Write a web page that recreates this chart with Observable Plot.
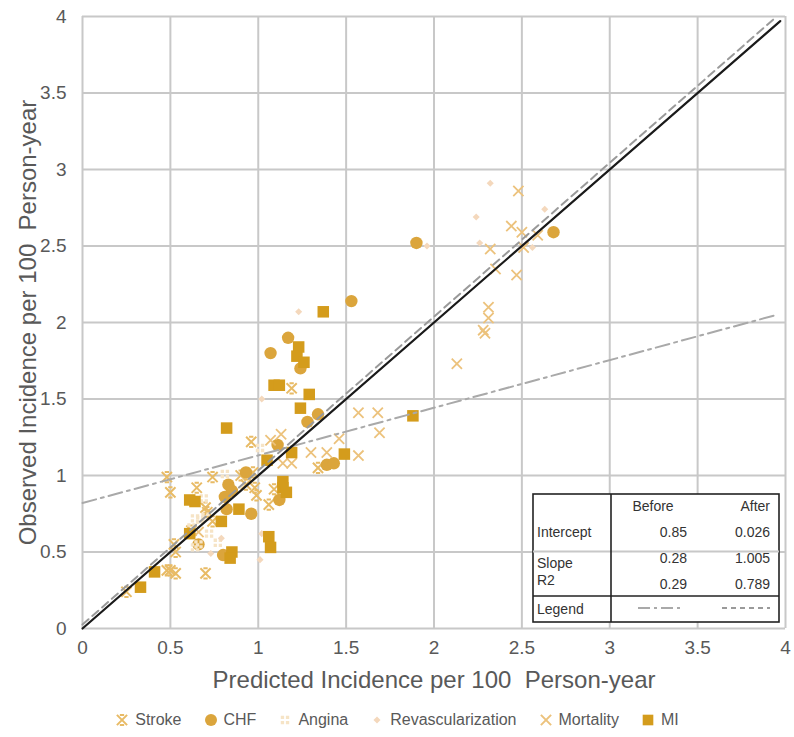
<!DOCTYPE html>
<html><head><meta charset="utf-8">
<script src="https://cdn.jsdelivr.net/npm/d3@7"></script>
<script src="https://cdn.jsdelivr.net/npm/@observablehq/plot@0.6"></script>
<style>
body{margin:0;background:#fff;font-family:"Liberation Sans",Arial,sans-serif;}
#wrap{position:relative;width:794px;height:737px;overflow:hidden;}
#legend{position:absolute;top:711px;left:0;width:794px;display:flex;justify-content:center;align-items:center;gap:22px;font-size:16px;color:#595959;}
#legend .it{display:flex;align-items:center;gap:6px;}
</style></head><body>
<div id="wrap"><div id="chart"></div><div id="legend"></div></div>
<script>
// ---- data ----
const strokeX = [0.25,0.48,0.50,0.53,0.70,0.52,0.53,0.48,0.50,0.74,0.70,0.71,0.74,0.96,0.97,0.90,0.93,0.98,0.99,1.09,1.06,1.19,1.34,0.65,0.62];
const strokeY = [0.24,0.38,0.38,0.36,0.36,0.55,0.50,0.99,0.89,0.99,0.79,0.76,0.70,1.22,1.02,1.00,0.94,0.92,0.87,0.91,0.81,1.57,1.05,0.92,0.64];
const chfX = [2.68,1.90,1.53,1.17,1.07,1.24,1.34,1.28,1.11,1.39,1.43,0.93,0.83,0.85,0.81,1.12,0.82,0.96,0.66,0.80];
const chfY = [2.59,2.52,2.14,1.90,1.80,1.70,1.40,1.35,1.20,1.07,1.08,1.02,0.94,0.90,0.86,0.84,0.78,0.75,0.55,0.48];
const anginaX = [1.01,0.81,0.64,0.70,0.69,0.67,0.77,0.64,0.66,0.62,0.72];
const anginaY = [1.18,1.01,0.72,0.73,0.85,0.71,0.56,0.53,0.55,0.66,0.62];
const revascX = [2.32,2.24,2.63,2.26,2.56,1.96,1.23,1.02,0.73,0.79,1.02,1.01];
const revascY = [2.91,2.69,2.74,2.52,2.49,2.50,2.07,1.50,0.49,0.59,0.62,0.45];
const mortX = [2.48,2.44,2.50,2.59,2.32,2.51,2.35,2.47,2.31,2.31,2.28,2.29,2.13,1.57,1.68,1.69,1.46,1.13,1.30,1.39,1.57,1.14,1.19,1.07,0.66];
const mortY = [2.86,2.63,2.59,2.57,2.48,2.49,2.35,2.31,2.10,2.03,1.95,1.93,1.73,1.41,1.41,1.28,1.24,1.27,1.15,1.15,1.13,1.08,1.08,1.23,0.63];
const miX = [1.37,1.23,1.22,1.26,1.09,1.12,1.29,1.24,1.88,0.82,1.19,1.49,1.05,1.14,1.14,1.16,0.61,0.64,0.89,0.79,0.61,1.06,1.07,0.85,0.84,0.41,0.33];
const miY = [2.07,1.84,1.78,1.74,1.59,1.59,1.53,1.44,1.39,1.31,1.15,1.14,1.10,0.96,0.92,0.89,0.84,0.83,0.78,0.70,0.62,0.60,0.53,0.50,0.46,0.37,0.27];

const identityX = [0, 3.97], identityY = [0, 3.97];
const afterX = [0, 3.95], afterY = [0.026, 4.0];
const beforeX = [0, 3.95], beforeY = [0.82, 2.05];

const tickValues = [0,0.5,1,1.5,2,2.5,3,3.5,4];
const xTitle = "Predicted Incidence per 100  Person-year";
const yTitle = "Observed Incidence per 100  Person-year";

const tableHeader = ["", "Before", "After"];
const tableRowLabels = ["Intercept", "Slope", "R2", "Legend"];
const beforeVals = ["0.85", "0.28", "0.29"];
const afterVals = ["0.026", "1.005", "0.789"];

const seriesNames = ["Stroke","CHF","Angina","Revascularization","Mortality","MI"];
const seriesColors = ["#e8bb66","#dba53c","#f6e4c6","#f4d8bc","#ecc27c","#d49c1c"];

// ---- symbols ----
const symStroke = {draw(c, size){ const s = Math.sqrt(size)*0.48, b = s*0.42;
  c.moveTo(-s,-s); c.lineTo(s,s); c.moveTo(s,-s); c.lineTo(-s,s);
  c.moveTo(-b,-s); c.lineTo(b,-s); c.moveTo(-b,s); c.lineTo(b,s);}};
const symX = {draw(c, size){ const s = Math.sqrt(size)*0.48;
  c.moveTo(-s,-s); c.lineTo(s,s); c.moveTo(s,-s); c.lineTo(-s,s);}};
const symAngina = {draw(c, size){ const s = Math.sqrt(size)*0.5, a = s*0.75, g = s*0.2;
  c.rect(-g-a,-g-a,a,a); c.rect(g,-g-a,a,a); c.rect(-g-a,g,a,a); c.rect(g,g,a,a);}};
const symDiamond = {draw(c, size){ const s = Math.sqrt(size)*0.5;
  c.moveTo(0,-s); c.lineTo(s,0); c.lineTo(0,s); c.lineTo(-s,0); c.closePath();}};

const pts = (xs, ys) => xs.map((x,i) => ({x, y: ys[i]}));

const gridColor = "#c8c8c8";
const chart = Plot.plot({
  width: 794, height: 700,
  marginTop: 16, marginBottom: 72, marginLeft: 82, marginRight: 9,
  style: {fontFamily: '"Liberation Sans", Arial, sans-serif', background: "#fff"},
  x: {domain: [0,4]},
  y: {domain: [0,4]},
  marks: [
    Plot.gridX(tickValues, {stroke: gridColor, strokeOpacity: 1, strokeWidth: 2}),
    Plot.gridY(tickValues, {stroke: gridColor, strokeOpacity: 1, strokeWidth: 2}),
    Plot.axisX(tickValues, {tickSize: 0, tickPadding: 12, fontSize: 19, fill: "#595959", label: null, tickFormat: d => String(d)}),
    Plot.axisY(tickValues, {tickSize: 0, tickPadding: 16, fontSize: 19, fill: "#595959", label: null, tickFormat: d => String(d)}),
    Plot.text([xTitle], {frameAnchor: "bottom", dy: 52, text: d => d, fontSize: 24, fill: "#595959", textAnchor: "middle", lineAnchor: "middle"}),
    Plot.text([yTitle], {frameAnchor: "left", dx: -54, text: d => d, fontSize: 24, fill: "#595959", rotate: -90, textAnchor: "middle", lineAnchor: "middle"}),
    Plot.dot(pts(strokeX, strokeY), {x: "x", y: "y", symbol: symStroke, r: 6, fill: "none", stroke: seriesColors[0], strokeWidth: 2}),
    Plot.dot(pts(chfX, chfY), {x: "x", y: "y", symbol: "circle", r: 6.2, fill: seriesColors[1], stroke: "none"}),
    Plot.dot(pts(anginaX, anginaY), {x: "x", y: "y", symbol: symAngina, r: 5, fill: seriesColors[2], stroke: "none"}),
    Plot.dot(pts(revascX, revascY), {x: "x", y: "y", symbol: symDiamond, r: 4, fill: seriesColors[3], stroke: "none"}),
    Plot.dot(pts(mortX, mortY), {x: "x", y: "y", symbol: symX, r: 6, fill: "none", stroke: seriesColors[4], strokeWidth: 1.8}),
    Plot.dot(pts(miX, miY), {x: "x", y: "y", symbol: "square", r: 6.5, fill: seriesColors[5], stroke: "none"}),
    Plot.line(pts(beforeX, beforeY), {x: "x", y: "y", stroke: "#a9a9a9", strokeWidth: 2, strokeDasharray: "14,5,3,5"}),
    Plot.line(pts(afterX, afterY), {x: "x", y: "y", stroke: "#9a9a9a", strokeWidth: 2, strokeDasharray: "8,5"}),
    Plot.line(pts(identityX, identityY), {x: "x", y: "y", stroke: "#1a1a1a", strokeWidth: 2.2})
  ]
});
document.getElementById("chart").appendChild(chart);

// ---- table overlay ----
const NS = "http://www.w3.org/2000/svg";
const tsvg = document.createElementNS(NS, "svg");
tsvg.setAttribute("width", 794); tsvg.setAttribute("height", 700);
tsvg.style.position = "absolute"; tsvg.style.left = "0"; tsvg.style.top = "0";
document.getElementById("wrap").appendChild(tsvg);
function el(tag, attrs, txt){ const e = document.createElementNS(NS, tag); for (const k in attrs) e.setAttribute(k, attrs[k]); if (txt != null) e.textContent = txt; tsvg.appendChild(e); return e; }
const L = 533, R = 779, T = 494, B = 622, V = 611;
el("rect", {x: L, y: T, width: R-L, height: B-T, fill: "#fff", stroke: "#222", "stroke-width": 1.6});
el("line", {x1: L, x2: R, y1: 551.5, y2: 551.5, stroke: gridColor, "stroke-width": 2});
el("line", {x1: V, x2: V, y1: T, y2: B, stroke: "#222", "stroke-width": 1.6});
el("line", {x1: L, x2: R, y1: 596, y2: 596, stroke: "#222", "stroke-width": 1.6});
const tf = {"font-family": '"Liberation Sans", Arial, sans-serif', "font-size": 14, fill: "#333"};
el("text", {...tf, x: 653, y: 511, "text-anchor": "middle"}, tableHeader[1]);
el("text", {...tf, x: 770, y: 511, "text-anchor": "end"}, tableHeader[2]);
el("text", {...tf, x: 537, y: 537}, tableRowLabels[0]);
el("text", {...tf, x: 537, y: 568}, tableRowLabels[1]);
el("text", {...tf, x: 537, y: 585}, tableRowLabels[2]);
el("text", {...tf, x: 537, y: 614}, tableRowLabels[3]);
const rowsY = [537, 563, 589];
rowsY.forEach((y,i) => {
  el("text", {...tf, x: 687, y, "text-anchor": "end"}, beforeVals[i]);
  el("text", {...tf, x: 770, y, "text-anchor": "end"}, afterVals[i]);
});
el("line", {x1: 638, x2: 684, y1: 608, y2: 608, stroke: "#a9a9a9", "stroke-width": 2, "stroke-dasharray": "12,4,3,4"});
el("line", {x1: 722, x2: 770, y1: 608, y2: 608, stroke: "#9a9a9a", "stroke-width": 2, "stroke-dasharray": "5,4"});

// ---- legend ----
const legendSyms = [symStroke, d3.symbolCircle, symAngina, symDiamond, symX, d3.symbolSquare];
const legendSizes = [6, 6, 5, 4, 6, 6];
const legendStroked = [true, false, false, false, true, false];
const leg = document.getElementById("legend");
seriesNames.forEach((name, i) => {
  const it = document.createElement("div"); it.className = "it";
  const s = document.createElementNS(NS, "svg"); s.setAttribute("width", 14); s.setAttribute("height", 14);
  const p = document.createElementNS(NS, "path");
  const r = legendSizes[i];
  p.setAttribute("d", d3.symbol(legendSyms[i], r*r*Math.PI)());
  p.setAttribute("transform", "translate(7,7)");
  if (legendStroked[i]) { p.setAttribute("fill","none"); p.setAttribute("stroke", seriesColors[i]); p.setAttribute("stroke-width", 2); }
  else p.setAttribute("fill", seriesColors[i]);
  s.appendChild(p); it.appendChild(s);
  const t = document.createElement("span"); t.textContent = name; it.appendChild(t);
  leg.appendChild(it);
});
</script>
</body></html>
